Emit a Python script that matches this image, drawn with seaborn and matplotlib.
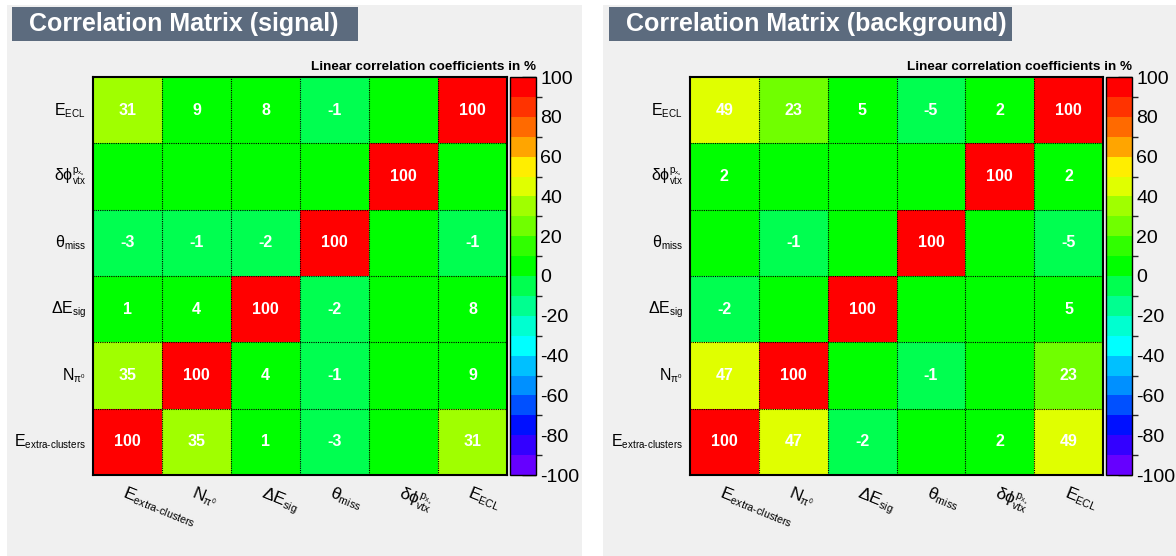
import matplotlib
matplotlib.use("Agg")
import numpy as np
import pandas as pd
import seaborn as sns
import matplotlib.pyplot as plt
import matplotlib._mathtext as _mt
from matplotlib.colors import ListedColormap, BoundaryNorm
from matplotlib.patches import Rectangle

# ---- data -------------------------------------------------------------
variables = [
    r"$E_{extra\text{-}clusters}$",
    r"$N_{\pi^{0}}$",
    r"$\Delta E_{sig}$",
    r"$\theta_{miss}$",
    r"$\delta\phi^{p_{x_u}}_{vtx}$",
    r"$E_{ECL}$",
]

# linear correlation coefficients in %, rows/cols in the order of `variables`
corr_signal = [
    [100, 35, 1, -3, 0, 31],
    [35, 100, 4, -1, 0, 9],
    [1, 4, 100, -2, 0, 8],
    [-3, -1, -2, 100, 0, -1],
    [0, 0, 0, 0, 100, 0],
    [31, 9, 8, -1, 0, 100],
]
corr_background = [
    [100, 47, -2, 0, 2, 49],
    [47, 100, 0, -1, 0, 23],
    [-2, 0, 100, 0, 0, 5],
    [0, -1, 0, 100, 0, -5],
    [2, 0, 0, 0, 100, 2],
    [49, 23, 5, -5, 2, 100],
]
titles = ["Correlation Matrix (signal)", "Correlation Matrix (background)"]
palette_label = "Linear correlation coefficients in %"
cbar_ticks = list(range(-100, 101, 20))

# ROOT-like 20-step rainbow palette, from -100 (bottom) to +100 (top)
palette = [
    "#6600ff", "#3300ff", "#0010ff", "#0050ff", "#0090ff",
    "#00c0ff", "#00ffff", "#00ffd0", "#00ff90", "#00ff50",
    "#00ff00", "#30ff00", "#70ff00", "#a0ff00", "#e0ff00",
    "#ffee00", "#ffa500", "#ff6a00", "#ff3300", "#ff0000",
]

# ---- style ------------------------------------------------------------
sns.set_theme(style="white")
plt.rcParams["font.family"] = ["Liberation Sans", "DejaVu Sans"]
plt.rcParams["mathtext.fontset"] = "custom"
plt.rcParams["mathtext.rm"] = "Liberation Sans"
plt.rcParams["mathtext.it"] = "Liberation Sans"
plt.rcParams["mathtext.default"] = "regular"
# smaller sub/superscripts, closer to ROOT's TLatex look
if hasattr(_mt, "SHRINK_FACTOR"):
    _mt.SHRINK_FACTOR = 0.62

cmap = ListedColormap(palette)
norm = BoundaryNorm(np.linspace(-100, 100, 21), cmap.N)

W, H = 1176, 556
fig = plt.figure(figsize=(W / 100, H / 100), dpi=100)
fig.patch.set_facecolor("white")


def rect(x0, y0, x1, y1):
    """pixel box (top-left origin) -> figure fraction [l, b, w, h]"""
    return [x0 / W, 1 - y1 / H, (x1 - x0) / W, (y1 - y0) / H]


pads = [
    dict(pad=(7, 5, 582, 556), title=(12, 7, 358, 41), heat=(93, 77, 507, 475),
         cbar=(510, 77, 536, 475)),
    dict(pad=(603, 5, 1176, 556), title=(609, 7, 1012, 41), heat=(690, 77, 1103, 475),
         cbar=(1106, 77, 1132, 475)),
]

for spec, matrix, title in zip(pads, [corr_signal, corr_background], titles):
    l, b, w, h = rect(*spec["pad"])
    fig.patches.append(Rectangle((l, b), w, h, transform=fig.transFigure,
                                 facecolor="#f0f0f0", edgecolor="none", zorder=-2))
    l, b, w, h = rect(*spec["title"])
    fig.patches.append(Rectangle((l, b), w, h, transform=fig.transFigure,
                                 facecolor="#5c6b7e", edgecolor="none", zorder=-1))
    fig.text(l + 17 / W, b + h / 2, title, color="white", fontsize=18,
             fontweight="bold", ha="left", va="center", zorder=3)

    ax = fig.add_axes(rect(*spec["heat"]))
    cax = fig.add_axes(rect(*spec["cbar"]))

    df = pd.DataFrame(matrix, index=variables, columns=variables)
    shown = df.iloc[::-1]
    annot = shown.map(lambda v: "" if v == 0 else f"{v:d}")

    sns.heatmap(shown, ax=ax, cbar_ax=cax, cmap=cmap, norm=norm,
                annot=annot, fmt="",
                annot_kws=dict(color="white", fontsize=11.5, fontweight="bold"),
                cbar_kws=dict(ticks=cbar_ticks))

    # cell separators
    n = len(variables)
    for k in range(1, n):
        ax.axhline(k, color="black", lw=0.8, ls=(0, (1, 1)))
        ax.axvline(k, color="black", lw=0.8, ls=(0, (1, 1)))
    for s in ax.spines.values():
        s.set_visible(True)
        s.set_color("black")
        s.set_linewidth(1.5)

    ax.set_xlabel("")
    ax.set_ylabel("")
    ax.set_yticklabels(shown.index, rotation=0, fontsize=11.5, color="black")
    ax.set_xticklabels(shown.columns, rotation=-22, ha="left", va="top",
                       rotation_mode="anchor", fontsize=12.5, color="black")
    ax.tick_params(axis="both", length=0)
    ax.tick_params(axis="y", pad=5)
    ax.tick_params(axis="x", pad=6)

    cbar = ax.collections[0].colorbar
    cbar.outline.set_edgecolor("black")
    cbar.outline.set_linewidth(1)
    cax.tick_params(axis="y", right=True, direction="in", length=10, width=1,
                    color="black", labelsize=14, labelcolor="black", pad=3)
    cax.set_yticklabels([str(t) for t in cbar_ticks])

    x_right = spec["cbar"][2]
    fig.text(x_right / W, 1 - 67 / H, palette_label, fontsize=9.7,
             fontweight="bold", ha="right", va="center", color="black")

fig.savefig("out.png", dpi=100, facecolor=fig.get_facecolor())
